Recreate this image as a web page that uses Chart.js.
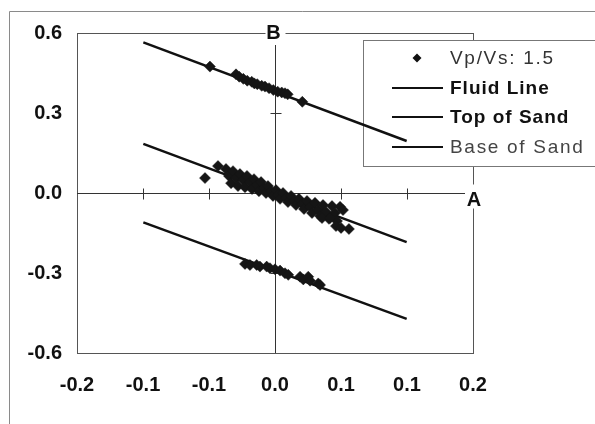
<!DOCTYPE html>
<html>
<head>
<meta charset="utf-8">
<script src="https://cdn.jsdelivr.net/npm/chart.js@4/dist/chart.umd.min.js"></script>
<style>
  html, body { margin: 0; padding: 0; background: #fff; }
  #wrap { width: 595px; height: 424px; }
</style>
</head>
<body>
<div id="wrap"><canvas id="grafico" width="595" height="424"></canvas></div>
<script>
// === Datos ===
const puntosX = [
  // grupo superior
  -0.0657, -0.0394, -0.0361, -0.0320, -0.0280, -0.0235, -0.0209, -0.0179, -0.0134,
  -0.0101, -0.0060, -0.0017, 0.0027, 0.0068, 0.0101, 0.0128, 0.0276,
  // grupo central
  -0.0707, -0.0576, -0.0495, -0.0465, -0.0444, -0.0424, -0.0394, -0.0374, -0.0354,
  -0.0323, -0.0303, -0.0283, -0.0253, -0.0232, -0.0212, -0.0182, -0.0162, -0.0141,
  -0.0111, -0.0091, -0.0071, -0.0040, -0.0020, 0.0010, 0.0030, 0.0051, 0.0081,
  0.0111, 0.0131, 0.0162, 0.0192, 0.0212, 0.0242, 0.0273, 0.0293, 0.0323,
  0.0354, 0.0374, 0.0404, 0.0434, 0.0455, 0.0485, 0.0515, 0.0545, 0.0576,
  0.0606, 0.0626, 0.0657, 0.0687, 0.0616, 0.0667, 0.0747, 0.0475, 0.0556,
  // grupo inferior
  -0.0303, -0.0253, -0.0185, -0.0152, -0.0084, -0.0051, 0.0000, 0.0051,
  0.0101, 0.0134, 0.0253, 0.0286, 0.0336, 0.0354, 0.0437, 0.0455
];
const puntosY = [
  0.474, 0.445, 0.436, 0.428, 0.421, 0.417, 0.411, 0.408, 0.402,
  0.399, 0.393, 0.386, 0.380, 0.377, 0.374, 0.370, 0.342,
  0.056, 0.101, 0.090, 0.064, 0.037, 0.082, 0.056, 0.026, 0.071,
  0.049, 0.022, 0.064, 0.041, 0.015, 0.052, 0.030, 0.007, 0.041,
  0.019, 0.000, 0.026, 0.007, -0.011, 0.011, -0.007, -0.022, 0.000,
  -0.019, -0.034, -0.011, -0.030, -0.045, -0.022, -0.041, -0.060, -0.030,
  -0.052, -0.075, -0.037, -0.064, -0.086, -0.045, -0.071, -0.097, -0.049,
  -0.075, -0.105, -0.052, -0.064, -0.124, -0.131, -0.135, -0.094, -0.094,
  -0.266, -0.270, -0.270, -0.276, -0.276, -0.282, -0.286, -0.291,
  -0.301, -0.307, -0.314, -0.324, -0.314, -0.329, -0.339, -0.345
];

const lineasX = [-0.133, 0.133];
const fluidLineY = [0.565, 0.195];
const topSandY = [0.184, -0.184];
const baseSandY = [-0.110, -0.472];

const etiquetas = ["Vp/Vs: 1.5", "Fluid Line", "Top of Sand", "Base of Sand"];

const xTicks = [-0.2, -0.1333, -0.0667, 0, 0.0667, 0.1333, 0.2];
const xTickLabels = ["-0.2", "-0.1", "-0.1", "0.0", "0.1", "0.1", "0.2"];
const yTicks = [-0.6, -0.3, 0, 0.3, 0.6];
const yTickLabels = ["-0.6", "-0.3", "0.0", "0.3", "0.6"];

const ejeX = "A";
const ejeY = "B";

const par = (xs, ys) => xs.map((x, i) => ({ x, y: ys[i] }));
const FUENTE = "'Liberation Sans', Arial, sans-serif";

// === Ejes por el origen, marco y leyenda ===
const pluginEjes = {
  id: "ejes",
  beforeDraw(chart) {
    const ctx = chart.ctx;
    ctx.save();
    ctx.strokeStyle = "#8a8a8a";
    ctx.lineWidth = 1;
    ctx.beginPath();
    ctx.moveTo(9.5, 424);
    ctx.lineTo(9.5, 11.5);
    ctx.lineTo(595, 11.5);
    ctx.stroke();
    ctx.restore();
  },
  beforeDatasetsDraw(chart) {
    const ctx = chart.ctx;
    const a = chart.chartArea;
    const sx = chart.scales.x;
    const sy = chart.scales.y;
    const x0 = Math.round(sx.getPixelForValue(0)) + 0.5;
    const y0 = Math.round(sy.getPixelForValue(0)) + 0.5;

    ctx.save();
    // marco del área
    ctx.strokeStyle = "#555";
    ctx.lineWidth = 1;
    ctx.strokeRect(a.left + 0.5, a.top + 0.5, a.right - a.left, a.bottom - a.top);

    // ejes A y B
    ctx.strokeStyle = "#333";
    ctx.beginPath();
    ctx.moveTo(a.left, y0);
    ctx.lineTo(a.right, y0);
    ctx.moveTo(x0, a.top);
    ctx.lineTo(x0, a.bottom);
    // marcas
    xTicks.forEach(v => {
      if (v === 0 || Math.abs(v) === 0.2) return;
      const px = Math.round(sx.getPixelForValue(v)) + 0.5;
      ctx.moveTo(px, y0 - 5);
      ctx.lineTo(px, y0 + 6);
    });
    yTicks.forEach(v => {
      if (v === 0 || Math.abs(v) === 0.6) return;
      const py = Math.round(sy.getPixelForValue(v)) + 0.5;
      ctx.moveTo(x0 - 5, py);
      ctx.lineTo(x0 + 6, py);
    });
    ctx.stroke();

    // letras A y B
    ctx.font = `bold 20px ${FUENTE}`;
    ctx.textAlign = "center";
    ctx.textBaseline = "middle";
    ctx.fillStyle = "#fff";
    ctx.fillRect(x0 - 10, a.top - 10, 20, 22);
    ctx.fillRect(a.right - 8, y0 - 9, 18, 24);
    ctx.fillStyle = "#111";
    ctx.fillText(ejeY, x0 - 2, a.top);
    ctx.fillText(ejeX, a.right + 1, y0 + 7);

    // leyenda
    const lx = 363, ly = 40, lh = 126;
    ctx.fillStyle = "#fff";
    ctx.fillRect(lx, ly, 600 - lx, lh);
    ctx.strokeStyle = "#777";
    ctx.strokeRect(lx + 0.5, ly + 0.5, 600 - lx, lh);
    const filas = [58, 88, 117, 147];
    const negrita = [false, true, true, false];
    const colores = ["#333", "#111", "#111", "#444"];
    ctx.textAlign = "left";
    chart.data.datasets.forEach((ds, i) => {
      const fy = filas[i];
      if (i === 0) {
        ctx.fillStyle = "#111";
        ctx.beginPath();
        ctx.moveTo(417, fy - 4.5);
        ctx.lineTo(421.5, fy);
        ctx.lineTo(417, fy + 4.5);
        ctx.lineTo(412.5, fy);
        ctx.closePath();
        ctx.fill();
      } else {
        ctx.strokeStyle = "#111";
        ctx.lineWidth = 2;
        ctx.beginPath();
        ctx.moveTo(392, fy);
        ctx.lineTo(443, fy);
        ctx.stroke();
      }
      ctx.font = `${negrita[i] ? "bold " : ""}19px ${FUENTE}`;
      ctx.letterSpacing = negrita[i] ? "1px" : "1.7px";
      ctx.fillStyle = colores[i];
      ctx.fillText(ds.label, 450, fy + 1);
    });
    ctx.restore();
  }
};

// === Gráfico ===
const ctx = document.getElementById("grafico").getContext("2d");
new Chart(ctx, {
  type: "scatter",
  data: {
    datasets: [
      {
        label: etiquetas[0],
        data: par(puntosX, puntosY),
        pointStyle: "rectRot",
        pointRadius: 5.5,
        backgroundColor: "#151515",
        borderColor: "#151515",
        borderWidth: 0.5
      },
      {
        label: etiquetas[1],
        data: par(lineasX, fluidLineY),
        showLine: true,
        pointRadius: 0,
        borderColor: "#111",
        borderWidth: 2.5
      },
      {
        label: etiquetas[2],
        data: par(lineasX, topSandY),
        showLine: true,
        pointRadius: 0,
        borderColor: "#111",
        borderWidth: 2.5
      },
      {
        label: etiquetas[3],
        data: par(lineasX, baseSandY),
        showLine: true,
        pointRadius: 0,
        borderColor: "#111",
        borderWidth: 2.5
      }
    ]
  },
  options: {
    responsive: false,
    animation: false,
    layout: { padding: { top: 33, right: 122, left: 0, bottom: 0 } },
    plugins: {
      legend: { display: false },
      tooltip: { enabled: false }
    },
    scales: {
      x: {
        type: "linear",
        min: -0.2,
        max: 0.2,
        afterBuildTicks: s => { s.ticks = xTicks.map(v => ({ value: v })); },
        afterFit: s => { s.height = 71; },
        ticks: {
          callback: (v, i) => xTickLabels[i],
          color: "#111",
          padding: 20,
          maxRotation: 0,
          font: { family: FUENTE, size: 20, weight: "bold" }
        },
        grid: { display: false, drawTicks: false },
        border: { display: false }
      },
      y: {
        type: "linear",
        min: -0.6,
        max: 0.6,
        afterBuildTicks: s => { s.ticks = yTicks.map(v => ({ value: v })); },
        afterFit: s => { s.width = 77; },
        ticks: {
          callback: (v, i) => yTickLabels[i],
          color: "#111",
          padding: 15,
          font: { family: FUENTE, size: 20, weight: "bold" }
        },
        grid: { display: false, drawTicks: false },
        border: { display: false }
      }
    }
  },
  plugins: [pluginEjes]
});
</script>
</body>
</html>
